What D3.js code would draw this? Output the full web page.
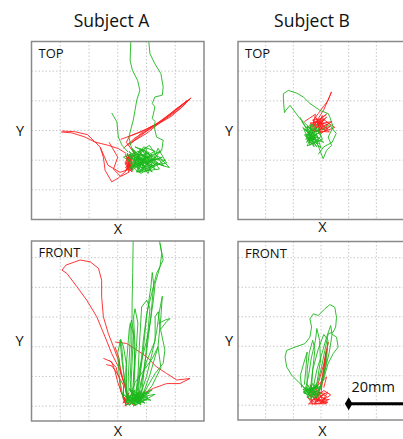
<!DOCTYPE html>
<html>
<head>
<meta charset="utf-8">
<script src="https://cdn.jsdelivr.net/npm/d3@7"></script>
<style>
  body { margin: 0; background: #fff; }
  svg { display: block; font-family: "Open Sans", sans-serif; }
</style>
</head>
<body>
<svg id="chart" width="403" height="439"></svg>
<script>
// grid lines every 10 mm
const gridTicks = [10, 20, 30, 40, 50];
const frontGridTicks = [0, 10, 20, 30, 40, 50];
const subjects = ['Subject A', 'Subject B'];

// Subject A, top view (mm)
const topARed = [
  [[31,27],[38,29.5],[45,33],[50,37],[55.5,41],[52,37.5],[46,33.5],[40,30.5],[34,28],[33,26],[36,22],[34,19]],
  [[33,25],[40,29],[47,34.5],[53,39],[55,40.5],[49,35],[42,31],[36,27.5],[32,24]],
  [[35,26],[41,30.5],[48,35.5],[54,40],[50,36.5],[44,32.5],[38,29],[34,25]],
  [[10.3,29.5],[14,29.2],[18.6,27.8],[22.1,26.1],[26.7,25],[30.2,23.9],[32.9,22.3]],
  [[10.6,29.8],[15,29.6],[19.5,28.6],[23.9,24.4],[25,21],[25.6,16.6],[27.9,12.7],[30.1,13.9],[33.1,16.6],[34.3,18.3]],
  [[23.9,24.4],[26.6,18.3],[30.8,15.9],[35,17.3]],
  [[27,26],[30,21],[28.5,17],[31,14.5],[34,16]],
  [[32.6,22],[34.8,17],[33,20.5],[35.2,21.5],[32.8,16.5],[34.2,19],[33.4,22.3],[35,16],[32.7,18.5],[34.6,20.8],[33.2,17],[35.3,18.5],[33.6,21],[32.9,19.6],[34.4,16.4],[33.8,18.2]],
  [[33,21.5],[34.5,18.5],[32.7,17.5],[35,20],[33.8,16],[34.2,22],[32.5,19],[35.3,17],[33.4,18.8],[34.7,21]]
];
const topAGreen = [
  [[34.6,62],[34.3,53.6],[35.1,50.3],[36.9,46.9],[37.7,43.5],[36.6,40.2],[36,36.8],[35.4,33.5],[34.6,30.6],[33.9,27.8],[34.5,25],[35.5,22.5],[36,20]],
  [[40.6,62],[41.2,55.9],[42.9,52.5],[45,49.2],[45.8,44.6],[45.5,41.9],[42.9,41.3],[42,39.1],[42.9,38],[42.7,36.8],[42,34],[43,33],[42.7,31.2],[43.5,27.8],[45.8,26.7],[45.3,23.3],[42.9,22.2],[39.5,20.6],[37,20]],
  [[27.9,35.9],[29.7,32.9],[30.2,27.8],[31.5,25],[33.6,22.7]],
  [[33,22],[38,18],[35,24],[40,16.5],[36,19],[42,22],[34,17],[39,23.5],[44,19],[37,16],[33.5,20],[41,25],[46,18],[40,21],[35,16.5],[38,24],[43,17],[36,21],[48,17.5],[44,21.5],[39,18],[34,23],[37.5,15.8],[41.5,19.5],[45,23],[36.5,18.5],[32,21],[40,24],[38.5,17],[35,22],[42.5,18],[37,20.5],[46.5,20],[39.5,16],[34.5,19],[41,22.5],[36,24.5],[43.5,20.5],[38,19]],
  [[36,21],[39.5,17.5],[34.5,18],[41,20],[37,23],[43,18.5],[38,15.5],[35.5,20.5],[40.5,22.5],[44.5,17],[36.5,16],[39,20],[42,16],[34,21.5],[38.5,22],[41.5,17.5],[37.5,18.5],[45.5,21],[40,19],[35,17.5],[39,24.5],[43,23],[36,19.5],[38,16.5],[42,20.5],[37,22],[40.5,15.5],[44,24],[47,19],[41,18],[35.5,23.5],[38.5,19.5]]
];

// Subject B, top view (mm)
const topBRed = [
  [[27,31],[29,34],[31,37],[33.8,43],[32.5,40],[30.8,38],[29,35.7],[27.2,33.4],[28,31]],
  [[24,33],[28,35.5],[27,31],[31,34],[29,30],[32.5,32],[28.5,33],[30,29],[33.5,31.5],[27.5,29.5],[30.5,35],[29,31.8],[31.8,30],[26,32.5],[30,33],[28,30.5],[32,34.5],[29.5,32.5]],
  [[25,31],[29,33.5],[32,35.5],[27.5,32],[34,33],[30,31],[28,34.5],[33,29.5],[26.5,30],[31,32.5],[29,29],[35,31],[30.5,34],[27,33.5],[32.5,30.5]]
];
const topBGreen = [
  [[27,30],[22.4,34],[20.6,36.2],[18.8,38.5],[17.3,36.8],[16.8,36],[16.4,40.2],[16.4,42.4],[18.2,43.5],[21.2,42.6],[23.6,41.3],[26,39.1],[29.6,36.8],[32.6,35.7],[33.2,34.5],[34.4,31.2],[32.6,27.8],[33.8,25],[32,23.3],[30.8,20.5],[29.6,23.3],[28.5,26],[27,29]],
  [[30,30],[33,32],[35.5,29],[34,26],[31,24.5],[29,22]],
  [[22.4,34.5],[25,30],[27,32],[24.5,27],[28.5,29],[26,25],[25,31.5],[29,27.5],[26.5,28],[24.8,26],[28,31],[30,28],[27,25.5],[25.5,29.5],[27.5,27],[26,32],[29.5,30],[24,28.5],[27,26.5],[28.5,24.5],[26,27.5],[31,26],[28,28.5],[25,26.5],[27.5,30.5]],
  [[23,33],[26.5,29],[24,30.5],[28,27],[25.5,26.5],[29.5,29.5],[26,31],[27.5,24.5],[24.5,28],[28.5,32],[30.5,27],[25,24.8],[27,29.5],[29,25.5],[23.5,31],[26,26],[28,30],[30,24],[25.5,28.5],[27,27.5]]
];

// Subject A, front view (mm)
const frontARed = [
  [[33.7,2],[31.9,8.8],[30.2,15.5],[28.5,20],[26.7,24.5],[25,30.1],[24.4,36.8],[24.4,42.4],[23.3,46.4],[20.4,48.6],[16.9,49.2],[12,47.5],[10.6,45.8],[12.3,44.7],[15.8,40.2],[19.2,35.7],[22.7,30.1],[25.6,23.3],[27.9,17.7],[30.8,12.1],[32.5,6.5],[33.5,2.5]],
  [[29.1,21.6],[33.1,21.1],[36.6,18.9],[40.1,16.6],[43.5,13.2],[47,11],[50.5,8.8],[55.1,9.3],[51.6,7.6],[47,7.6],[42.4,6],[37.7,3.7],[35,2]],
  [[25,16.1],[27.9,14.9],[29,12],[30,8],[31.5,4],[32.5,1]],
  [[26,14],[28,13.5],[30.5,10],[31,5],[33,1.5]],
  [[27,15.5],[29.5,13],[30,10.5],[32,7],[32,3],[34,0.5]],
  [[29,20],[30.5,16],[31,11],[33,6],[33.5,2]],
  [[31.5,4],[33,0.5],[32,2.5],[34,4.5],[31.8,1],[33.5,3],[32.5,0],[34.5,1.5],[35.5,0.2],[36.5,0.5]]
];
const frontAGreen = [
  [[35.4,58],[35.2,45],[35,35],[34.9,22.2],[34.6,15],[34.3,8.8],[35,3],[36,1]],
  [[44.1,58],[45.3,51.4],[44.7,46.9],[43,41.3],[42.4,35.7],[41.2,27.8],[40.1,22.2],[37.7,13.2],[36.6,5.4],[37,1]],
  [[44.7,54.8],[45.8,49.2],[43.5,44.7],[41.8,37.9],[40.1,31.2],[38.9,22.2],[37.7,11],[37,3],[38,0.5]],
  [[37,1],[38,8],[40,15],[43,22],[43,30.1],[44.1,31.8],[44.7,26.7],[46.4,18.9],[45.8,14.4],[43,11],[40,6],[38,2]],
  [[44.1,27.8],[46.5,29],[48.2,29.5],[47,28.5],[45,26]],
  [[36,2],[37,10],[37.5,20],[38.3,33.4],[40.1,35.7],[41.2,33],[40.5,25],[39.5,15],[38.5,6],[37,1.5]],
  [[34,1],[32.5,8],[31.5,15],[30.8,22.2],[31.4,20],[32,12],[33,4]],
  [[33.5,1.5],[33.7,10],[34.3,22],[34.3,27.8],[35.5,24],[36,14],[35.5,4]],
  [[33,1],[32.8,12],[33.5,20],[34,26],[34.8,29],[35.5,25],[35,15],[34.5,5]],
  [[36,1],[38,12],[39,20],[40,30],[41.5,40],[42,45],[42.5,41],[41.5,30],[40,18],[38,6]],
  [[37,1],[40,10],[42,18],[43.5,25],[44.5,32],[45.5,37],[45,30],[44,20],[41,10],[38,2]],
  [[35,1],[35.5,10],[36.5,20],[37,28],[36,32.8],[35.5,30],[36,20],[35.5,8]],
  [[34,2],[36,8],[39,12],[42,16],[44,20],[45,13],[42,7],[38,2]],
  [[32,2],[30.5,10],[30,18],[31,22.5],[32,20],[33,14],[33,5]],
  [[31,5],[35,1],[33,4],[38,0.5],[34,6],[37,2.5],[32.5,1.5],[39,4],[35.5,0],[36,5.5],[33.5,2],[40,2],[36.5,3.5],[34,0.2],[38.5,5.5],[35,3],[37.5,0.8],[33,3.5],[41,4.5],[36,1.5],[34.5,5],[39.5,1],[35.8,2.5],[42,5.5],[38,3],[33.8,1]],
  [[32,4],[36,0.5],[34.5,3],[39,1.5],[33,0.5],[37,4.5],[35,2],[40.5,3],[34,5.5],[38,1],[36.5,4],[41.5,2],[33.5,3],[39.5,5],[35.5,1],[37.5,3],[43,4],[36,0.2],[38.5,2.5],[34.8,4.5]]
];

// Subject B, front view (mm)
const frontBRed = [
  [[29,3],[30.5,10],[31.5,16],[32.6,21.4],[32,18],[31,12],[30,6]],
  [[28,4],[29.5,9],[31,14],[32,19],[31.5,13],[30.5,8],[30,4]],
  [[26,7],[27,5],[32,9.6],[31,6]],
  [[25,3],[27,0.3],[26,4],[29,1],[27.5,3.5],[30,0.5],[28.5,4.2],[31.5,2],[29.5,3],[32.5,4.5],[30.5,1.5],[33.5,3.5],[31,5],[26.5,1.5],[28,2.2],[32,0.5],[25.5,0.5],[30,4]],
  [[26,2],[28.5,0.5],[27,3],[31,1],[29,4.5],[32,3],[30,0.8],[33,2],[28,1.5],[31.5,4],[26.5,4.8],[29.5,2],[32.5,1],[27.5,0.4],[30.5,3.5]]
];
const frontBGreen = [
  [[24.8,5.2],[21.8,7.9],[19.4,10.2],[17.6,13],[17,16.4],[17.6,18.6],[20.6,19.7],[24.2,20.9],[26,23.1],[26.6,26.5],[26,29.3],[27.2,31],[29,30.4],[31.4,32.7],[33.2,34.1],[35,33.2],[35.6,29.8],[35.3,26.5],[34.4,24.8],[32.6,24.2],[31.4,18.6],[30.2,13],[29,8.5],[27.8,5.2]],
  [[33.8,24.2],[35.6,23.1],[36.2,19.7],[34.4,17.5],[32.5,14],[31,9],[29.5,5]],
  [[24,4],[25.5,10],[26.5,16],[28,22],[28.5,26],[29.5,22],[29.8,15],[28.6,8],[27.5,4]],
  [[26,4],[27,12],[29,19],[31,24],[32.5,22],[32,15],[30,7],[28,3]],
  [[25,5],[25,12],[25.8,18],[27,22],[27.8,19],[27,12],[26.5,5]],
  [[27,5],[28.5,12],[30.5,18],[32,23],[33.5,27],[34,24],[33,18],[31,10],[29,4]],
  [[23,6],[22.5,10],[24,15],[25,18],[24.5,12],[24,7]],
  [[23,7],[26,3],[24.5,6],[28,4.5],[25,2.5],[27,7.4],[29.5,5],[24,4],[26.5,6.5],[28.5,2.5],[25.5,5],[30,6.5],[27.5,3.5],[23.5,5.5],[26,2],[29,7],[25,4.2],[27.8,6]],
  [[24,6],[27,4],[25,7],[29,3],[26,5],[28.5,6.5],[23.5,4.5],[27.5,2.5],[30,4],[25.5,3.5],[28,7],[26.5,2.5],[29.5,6],[24.5,5],[27,6]]
];

const scaleBar = [40, 60]; // 20 mm

const svg = d3.select('#chart');

function drawPanel(id, left, top, w, h, yDomain, yTicks, label, red, green) {
  const x = d3.scaleLinear().domain([0, 60]).range([left, left + w]);
  const y = d3.scaleLinear().domain(yDomain).range([top + h, top]);

  svg.append('clipPath').attr('id', id)
    .append('rect').attr('x', left).attr('y', top).attr('width', w).attr('height', h);

  const g = svg.append('g');
  const grid = g.append('g').attr('stroke', '#c8c8c8').attr('stroke-dasharray', '1.5,2');
  grid.selectAll('.vx').data(gridTicks).enter().append('line')
    .attr('x1', d => x(d)).attr('x2', d => x(d)).attr('y1', top).attr('y2', top + h);
  grid.selectAll('.hy').data(yTicks).enter().append('line')
    .attr('x1', left).attr('x2', left + w).attr('y1', d => y(d)).attr('y2', d => y(d));

  const line = d3.line().x(d => x(d[0])).y(d => y(d[1]));
  const tracks = g.append('g').attr('clip-path', `url(#${id})`).attr('fill', 'none');
  tracks.selectAll('.r').data(red).enter().append('path')
    .attr('d', line).attr('stroke', '#ff2020').attr('stroke-width', 0.9).attr('stroke-linejoin', 'round');
  tracks.selectAll('.gr').data(green).enter().append('path')
    .attr('d', line).attr('stroke', '#1cb81c').attr('stroke-width', 0.9).attr('stroke-linejoin', 'round');

  g.append('rect').attr('x', left).attr('y', top).attr('width', w).attr('height', h)
    .attr('fill', 'none').attr('stroke', '#8a8a8a').attr('stroke-width', 1.5);

  g.append('text').attr('x', left + 7).attr('y', top + 16)
    .style('font-size', '13px').attr('fill', '#111').text(label);

  return { x, y };
}

drawPanel('cTA', 31.5, 41.5, 172.5, 178, [0, 60], gridTicks, 'TOP', topARed, topAGreen);
drawPanel('cTB', 238, 41.5, 166, 178, [0, 60], gridTicks, 'TOP', topBRed, topBGreen);
drawPanel('cFA', 31.5, 241, 172.5, 180, [-5, 55.6], frontGridTicks, 'FRONT', frontARed, frontAGreen);
const fb = drawPanel('cFB', 238, 241.5, 166, 178.5, [-5, 55.5], frontGridTicks, 'FRONT', frontBRed, frontBGreen);

// titles and axis names
svg.selectAll('.title').data(subjects).enter().append('text')
  .attr('x', (d, i) => [111.5, 312][i]).attr('y', 27)
  .attr('text-anchor', 'middle').style('font-size', '17.5px').attr('fill', '#111').text(d => d);

[[118, 233.5], [322.5, 232], [118, 436], [322.5, 436]].forEach(p => {
  svg.append('text').attr('x', p[0]).attr('y', p[1]).attr('text-anchor', 'middle')
    .style('font-size', '14.5px').attr('fill', '#111').text('X');
});
[[20, 136], [229, 136], [19.5, 345.5], [229, 345.5]].forEach(p => {
  svg.append('text').attr('x', p[0]).attr('y', p[1]).attr('text-anchor', 'middle')
    .style('font-size', '14.5px').attr('fill', '#111').text('Y');
});

// 20 mm scale bar
const by = fb.y(0.5);
svg.append('line').attr('x1', fb.x(scaleBar[0])).attr('x2', fb.x(scaleBar[1]))
  .attr('y1', by).attr('y2', by).attr('stroke', '#000').attr('stroke-width', 3);
svg.append('path').attr('d', d3.symbol(d3.symbolDiamond, 50)())
  .attr('transform', `translate(${fb.x(scaleBar[0])},${by})`).attr('fill', '#000');
svg.append('text').attr('x', 351.5).attr('y', 391.5)
  .style('font-size', '14.5px').attr('fill', '#111').text('20mm');
</script>
</body>
</html>
